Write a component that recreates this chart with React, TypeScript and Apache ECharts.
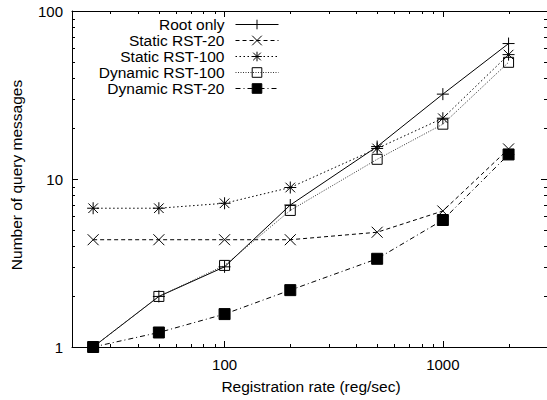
import React, { useEffect, useRef } from "react";
import * as echarts from "echarts";

const xValues = [25, 50, 100, 200, 500, 1000, 2000];
const rootOnly = [1, 2, 3, 7, 15.6, 32, 64];
const staticRst20 = [4.35, 4.35, 4.35, 4.35, 4.82, 6.45, 15.1];
const staticRst100 = [6.7, 6.7, 7.17, 8.9, 15.2, 23, 55];
const dynamicRst100 = [1, 2, 3.06, 6.5, 13.1, 21.2, 49.5];
const dynamicRst20 = [1, 1.22, 1.57, 2.18, 3.35, 5.7, 14];

const seriesNames = ["Root only", "Static RST-20", "Static RST-100", "Dynamic RST-100", "Dynamic RST-20"];
const xMinorTicks = [30, 40, 50, 60, 70, 80, 90, 200, 300, 400, 500, 600, 700, 800, 900, 2000];
const yMinorTicks = [2, 3, 4, 5, 6, 7, 8, 9, 20, 30, 40, 50, 60, 70, 80, 90];

const FONT = "'Liberation Sans', Arial, Helvetica, sans-serif";

const PLUS = "path://M0,5L10,5M5,0L5,10";
const CROSS = "path://M0,0L10,10M10,0L0,10";
const STAR = "path://M0,5L10,5M5,0L5,10M1,1L9,9M9,1L1,9";

function mkSeries(name: string, vals: number[], symbol: string, size: number, lineType: any, lineColor: string, fill: string) {
  return {
    type: "line",
    name,
    data: xValues.map((x, i) => [x, vals[i]]),
    symbol,
    symbolSize: size,
    showSymbol: true,
    showAllSymbol: true,
    xAxisIndex: 0,
    yAxisIndex: 0,
    lineStyle: { color: lineColor, width: 1, type: lineType },
    itemStyle: { color: fill, borderColor: "#000", borderWidth: 1 },
    emphasis: { disabled: true },
    silent: true,
  };
}

export default function App() {
  const ref = useRef<HTMLDivElement>(null);
  useEffect(() => {
    if (!ref.current) return;
    const chart = echarts.init(ref.current, null, { renderer: "svg" });
    const axisCommonX = {
      type: "log",
      logBase: 10,
      min: 20,
      max: 3000,
      splitLine: { show: false },
      axisLine: { lineStyle: { color: "#000", width: 1 } },
      axisTick: { inside: true, length: 6, lineStyle: { color: "#000", width: 1 } },
    };
    const axisCommonY = {
      type: "log",
      logBase: 10,
      min: 1,
      max: 100,
      splitLine: { show: false },
      axisLine: { lineStyle: { color: "#000", width: 1 } },
      axisTick: { inside: true, length: 6, lineStyle: { color: "#000", width: 1 } },
    };
    const option: any = {
      animation: false,
      backgroundColor: "#fff",
      grid: { left: 72, top: 11, right: -2, bottom: 53, containLabel: false },
      xAxis: [
        {
          ...axisCommonX,
          position: "bottom",
          axisLabel: {
            color: "#000",
            fontSize: 15,
            fontFamily: FONT,
            margin: 10,
            showMinLabel: false,
            showMaxLabel: false,
            formatter: (v: number) => String(v),
          },
        },
        { ...axisCommonX, position: "top", axisLabel: { show: false } },
      ],
      yAxis: [
        {
          ...axisCommonY,
          position: "left",
          axisLabel: {
            color: "#000",
            fontSize: 15,
            fontFamily: FONT,
            margin: 9,
            formatter: (v: number) => String(v),
          },
        },
        { ...axisCommonY, position: "right", axisLabel: { show: false } },
      ],
      legend: {
        data: seriesNames,
        orient: "vertical",
        align: "right",
        right: 268,
        top: 16.5,
        padding: 0,
        itemWidth: 43,
        itemHeight: 12,
        itemGap: 0,
        selectedMode: false,
        textStyle: { fontSize: 15.5, fontFamily: FONT, color: "#000", padding: [0, 6, 0, 0] },
        itemStyle: { borderWidth: 1 },
        lineStyle: { width: 1 },
      },
      graphic: [
        {
          type: "text",
          x: 311,
          y: 386,
          style: { text: "Registration rate (reg/sec)", fontSize: 15.5, fontFamily: FONT, fill: "#000", align: "center", verticalAlign: "middle" },
        },
        {
          type: "text",
          x: 16,
          y: 175,
          rotation: Math.PI / 2,
          style: { text: "Number of query messages", fontSize: 15.5, fontFamily: FONT, fill: "#000", align: "center", verticalAlign: "middle" },
        },
      ],
      series: [
        mkSeries("Root only", rootOnly, PLUS, 12, "solid", "#000", "#000"),
        mkSeries("Static RST-20", staticRst20, CROSS, 11, [4, 3], "#000", "#000"),
        mkSeries("Static RST-100", staticRst100, STAR, 12, [1.5, 2.5], "#000", "#000"),
        mkSeries("Dynamic RST-100", dynamicRst100, "rect", 10, [1, 1.5], "#333", "rgba(0,0,0,0)"),
        mkSeries("Dynamic RST-20", dynamicRst20, "rect", 11, [5, 3, 1, 3], "#000", "#000"),
        {
          type: "custom",
          name: "xMinor",
          silent: true,
          xAxisIndex: 0,
          yAxisIndex: 0,
          data: xMinorTicks.map((v) => [v, 1]),
          renderItem: (params: any, api: any) => {
            const p = api.coord([api.value(0), 1]);
            const cs = params.coordSys;
            const x = Math.round(p[0]) + 0.5;
            const yb = cs.y + cs.height;
            return {
              type: "group",
              children: [
                { type: "line", shape: { x1: x, y1: yb, x2: x, y2: yb - 3 }, style: { stroke: "#000", lineWidth: 1 } },
                { type: "line", shape: { x1: x, y1: cs.y, x2: x, y2: cs.y + 3 }, style: { stroke: "#000", lineWidth: 1 } },
              ],
            };
          },
        },
        {
          type: "custom",
          name: "yMinor",
          silent: true,
          xAxisIndex: 0,
          yAxisIndex: 0,
          data: yMinorTicks.map((v) => [20, v]),
          renderItem: (params: any, api: any) => {
            const p = api.coord([20, api.value(1)]);
            const cs = params.coordSys;
            const y = Math.round(p[1]) + 0.5;
            const xr = cs.x + cs.width;
            return {
              type: "group",
              children: [
                { type: "line", shape: { x1: cs.x, y1: y, x2: cs.x + 3, y2: y }, style: { stroke: "#000", lineWidth: 1 } },
                { type: "line", shape: { x1: xr, y1: y, x2: xr - 3, y2: y }, style: { stroke: "#000", lineWidth: 1 } },
              ],
            };
          },
        },
      ],
    };
    chart.setOption(option);
    return () => chart.dispose();
  }, []);
  return <div ref={ref} style={{ position: "absolute", left: 0, top: 0, width: 547, height: 400 }} />;
}
